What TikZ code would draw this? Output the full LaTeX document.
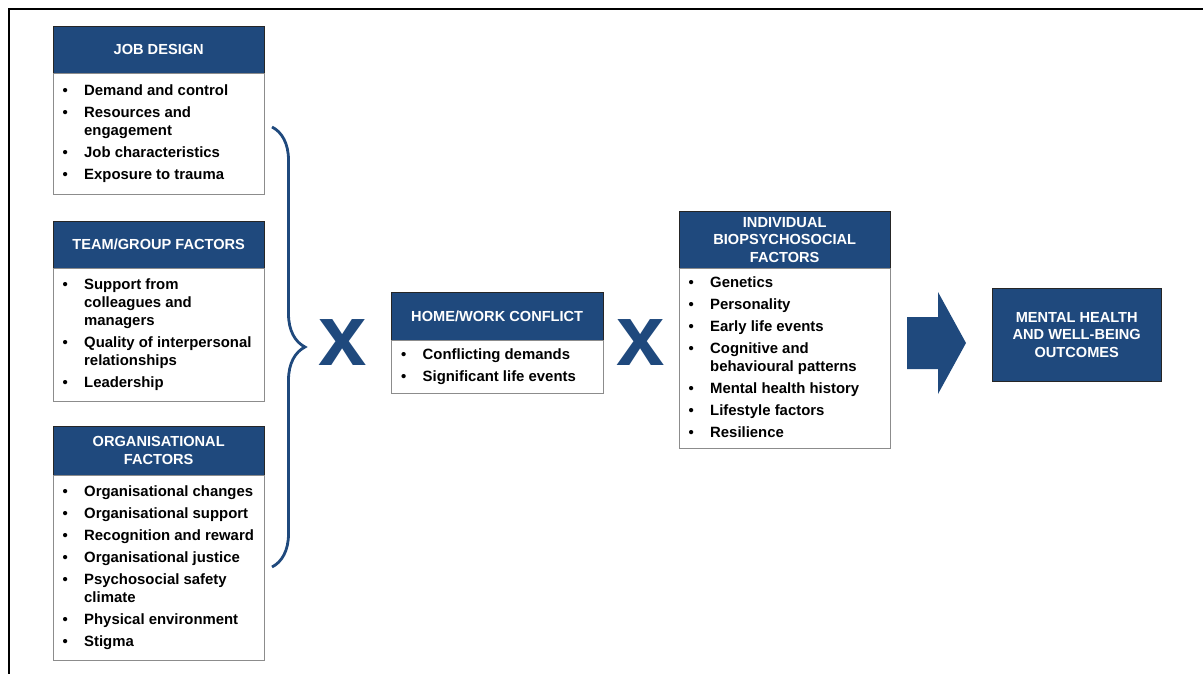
\documentclass[tikz,border=0pt]{standalone}
\usepackage{fontspec}
\usepackage{array}
\setmainfont{Liberation Sans}
\usetikzlibrary{positioning,decorations.pathreplacing}
\definecolor{boxblue}{HTML}{1F497D}
\newcolumntype{B}{@{}p{21.5pt}@{}}
\newcolumntype{T}{>{\raggedright\arraybackslash}p{170.5pt}@{}}
\newcommand{\nx}{\\\noalign{\vskip4pt}}
\begin{document}
\begin{tikzpicture}[x=1pt, y=-1pt,
    hdr/.style={draw=black!85, fill=boxblue, text=white, minimum width=211pt,
      inner sep=0pt, align=center, anchor=north west,
      font=\fontsize{14.6}{17.5}\selectfont\bfseries},
    lst/.style={draw=black!45, fill=white, minimum width=211pt, inner xsep=9.5pt,
      inner ysep=0pt, font=\fontsize{14.9}{18}\selectfont\bfseries},
    timesmark/.style={text=boxblue, inner sep=0pt,
      font=\fontsize{87}{87}\selectfont\bfseries}]
  \useasboundingbox (0,0) rectangle (1203,674);
  % frame
  \draw[line width=2pt] (9,690) -- (9,9) -- (1220,9);
  % left column
  \node[hdr, minimum height=47pt] (jdh) at (53,26) {JOB DESIGN};
  \node[lst, minimum height=121pt, below=0pt of jdh] (jdb) {%
    \begin{tabular}{BT}
      \textbullet & Demand and control\nx
      \textbullet & Resources and\newline engagement\nx
      \textbullet & Job characteristics\nx
      \textbullet & Exposure to trauma
    \end{tabular}};
  \node[hdr, minimum height=47pt] (tgh) at (53,221) {TEAM/GROUP FACTORS};
  \node[lst, minimum height=133pt, below=0pt of tgh] (tgb) {%
    \begin{tabular}{BT}
      \textbullet & Support from\newline colleagues and\newline managers\nx
      \textbullet & Quality of interpersonal\newline relationships\nx
      \textbullet & Leadership
    \end{tabular}};
  \node[hdr, minimum height=49pt] (orh) at (53,426) {ORGANISATIONAL\\FACTORS};
  \node[lst, minimum height=185pt, below=0pt of orh] (orb) {%
    \begin{tabular}{BT}
      \textbullet & Organisational changes\nx
      \textbullet & Organisational support\nx
      \textbullet & Recognition and reward\nx
      \textbullet & Organisational justice\nx
      \textbullet & Psychosocial safety\newline climate\nx
      \textbullet & Physical environment\nx
      \textbullet & Stigma
    \end{tabular}};
  % brace
  \draw[boxblue, line width=2.8pt, decorate,
    decoration={brace, amplitude=33pt}] (272,127) -- (272,567);
  \node[timesmark] (x1) at (343,342.5) {x};
  % middle
  \node[hdr, minimum width=212pt, minimum height=48pt] (hwh) at (391,292)
    {HOME/WORK CONFLICT};
  \node[lst, minimum width=212pt, minimum height=53pt, below=0pt of hwh] (hwb) {%
    \begin{tabular}{BT}
      \textbullet & Conflicting demands\nx
      \textbullet & Significant life events
    \end{tabular}};
  \node[timesmark] (x2) at (641,343) {x};
  % right
  \node[hdr, minimum height=57pt] (ibh) at (679,211)
    {INDIVIDUAL\\BIOPSYCHOSOCIAL\\FACTORS};
  \node[lst, minimum height=180pt, below=0pt of ibh] (ibb) {%
    \begin{tabular}{BT}
      \textbullet & Genetics\nx
      \textbullet & Personality\nx
      \textbullet & Early life events\nx
      \textbullet & Cognitive and\newline behavioural patterns\nx
      \textbullet & Mental health history\nx
      \textbullet & Lifestyle factors\nx
      \textbullet & Resilience
    \end{tabular}};
  \fill[boxblue] (907,317) -- (938,317) -- (938,292) -- (966,343)
    -- (938,394) -- (938,369) -- (907,369) -- cycle;
  \node[hdr, minimum width=169pt, minimum height=93pt] (mho) at (992,288)
    {MENTAL HEALTH\\AND WELL-BEING\\OUTCOMES};
\end{tikzpicture}
\end{document}
